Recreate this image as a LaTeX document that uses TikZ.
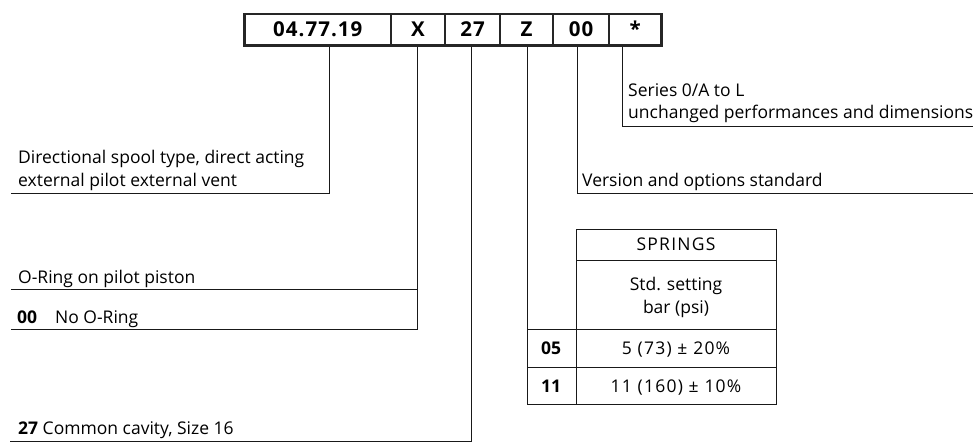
\documentclass[tikz,border=0pt]{standalone}
\usepackage{fontspec}
\setmainfont{Open Sans}
\begin{document}
\begin{tikzpicture}[x=1pt,y=-1pt,
  codebox/.style={draw=black!85,line width=2.6pt,inner sep=0pt,minimum height=31.5pt},
  boxtxt/.style={anchor=base,inner sep=0pt,font=\fontsize{20.5}{22}\selectfont\bfseries\addfontfeature{LetterSpace=5}},
  lbl/.style={anchor=base west,inner sep=0pt,font=\fontsize{17.5}{20}\selectfont},
  cl/.style={anchor=base,inner sep=0pt,font=\fontsize{17.5}{20}\selectfont},
  clw/.style={cl,font=\fontsize{17.5}{20}\selectfont\addfontfeature{LetterSpace=7}},
  clb/.style={cl,font=\fontsize{17.5}{20}\selectfont\bfseries},
  lead/.style={draw=black!90,line width=0.9pt},
  tab/.style={draw=black!90,line width=0.9pt}]
\useasboundingbox (0,0) rectangle (973,446);
% code boxes
\node[codebox,minimum width=146.5pt] (c1) at (317.75,29.75) {};
\node[codebox,minimum width=54pt] (c2) at (418,29.75) {};
\node[codebox,minimum width=55pt] (c3) at (472.5,29.75) {};
\node[codebox,minimum width=53pt] (c4) at (526.5,29.75) {};
\node[codebox,minimum width=56pt] (c5) at (581,29.75) {};
\node[codebox,minimum width=52.5pt] (c6) at (635.25,29.75) {};
\node[boxtxt] (t1) at (317.75,37) {04.77.19};
\node[boxtxt] (t2) at (418,37) {X};
\node[boxtxt] (t3) at (472.5,37) {27};
\node[boxtxt] (t4) at (526.5,37) {Z};
\node[boxtxt] (t5) at (581,37) {00};
\node[boxtxt] (t6) at (635.25,37) {*};
% leader coordinates
\coordinate (k1) at (329,193); \coordinate (e1) at (11,193);
\coordinate (k2) at (417,329); \coordinate (e2) at (11,329);
\coordinate (m2) at (417,289); \coordinate (f2) at (11,289);
\coordinate (k3) at (471,441); \coordinate (e3) at (10,441);
\coordinate (k4) at (527,404);
\coordinate (k5) at (577,193); \coordinate (e5) at (973,193);
\coordinate (k6) at (622,126); \coordinate (e6) at (973,126);
% leaders
\draw[lead] (c1.south -| k1) -- (k1) -- (e1);
\draw[lead] (c2.south -| k2) -- (k2) -- (e2);
\draw[lead] (m2) -- (f2);
\draw[lead] (c3.south -| k3) -- (k3) -- (e3);
\draw[lead] (c4.south -| k4) -- (k4);
\draw[lead] (c5.south -| k5) -- (k5) -- (e5);
\draw[lead] (c6.south -| k6) -- (k6) -- (e6);
% labels
\node[lbl] (a1) at (18,164) {Directional spool type, direct acting};
\node[lbl] (a2) at (18,187) {external pilot external vent};
\node[lbl] (b1) at (18,283) {O-Ring on pilot piston};
\node[lbl] (b2) at (17,323) {\textbf{00}\hspace{18pt}No O-Ring};
\node[lbl] (d1) at (18,434) {\textbf{27} Common cavity, Size 16};
\node[lbl] (s1) at (628,97) {Series 0/A to L};
\node[lbl] (s2) at (628,119) {unchanged performances and dimensions};
\node[lbl] (v1) at (582,187) {Version and options standard};
% table
\draw[tab] (576,229) rectangle (776,404);
\draw[tab] (576,260) -- (776,260);
\draw[tab] (527,329) -- (776,329);
\draw[tab] (527,367) -- (776,367);
\draw[tab] (527,404) -- (576,404);
\node[clw] (h1) at (676,251) {SPRINGS};
\node[cl] (h2) at (676,290) {Std. setting};
\node[cl] (h3) at (676,313) {bar (psi)};
\node[clb] (r1) at (551,354) {05};
\node[clw] (v05) at (676,354) {5 (73) ± 20\%};
\node[clb] (r2) at (551,392) {11};
\node[clw] (v11) at (676,392) {11 (160) ± 10\%};
\end{tikzpicture}
\end{document}
